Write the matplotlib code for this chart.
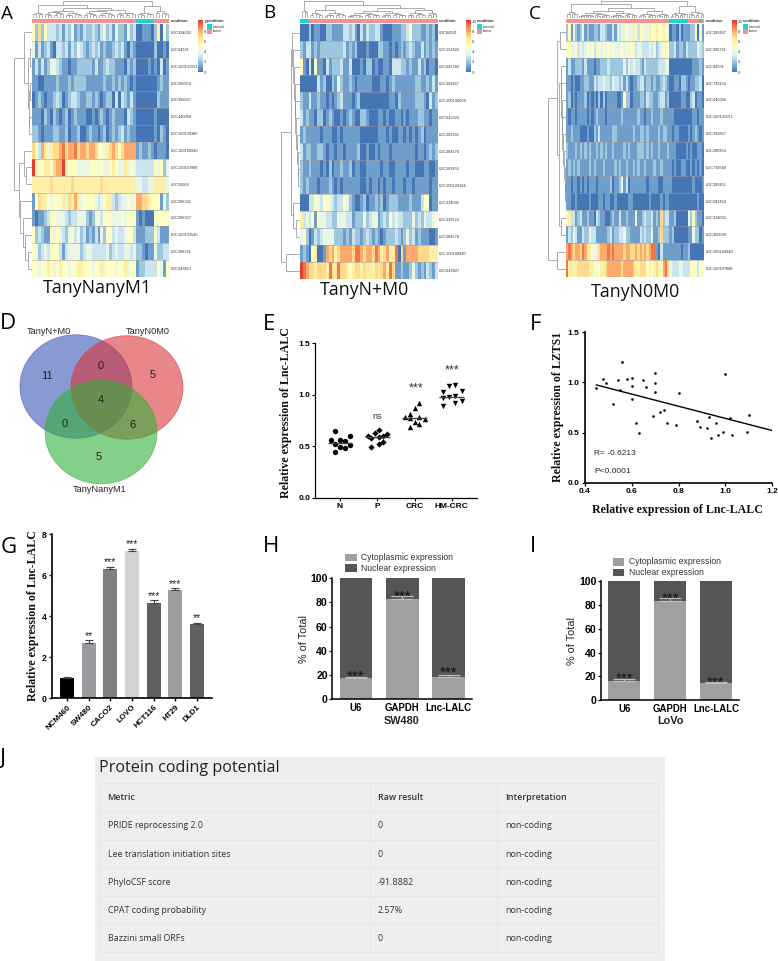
import numpy as np
import matplotlib
matplotlib.use('Agg')
import matplotlib.pyplot as plt
from matplotlib.collections import LineCollection
from matplotlib.colors import LinearSegmentedColormap, ListedColormap
from matplotlib.patches import Ellipse, Rectangle

W, H = 778, 961
SANS = 'Liberation Sans'
SERIF = 'Liberation Serif'
OPEN = 'Open Sans'

# heatmap cells, one digit per cell, a = 10
heat_a = [
    "5272533323 1324121322 3213423142 21423 001110 26052",
    "4131231033 2313243212 3231211232 31021 000000 20010",
    "1313124432 1101122222 1311232211 10212 000010 10301",
    "1100111121 1121222211 1111211212 12101 000000 01211",
    "0121011232 0123321122 1210122030 32131 000000 02111",
    "1110210210 1201211100 1012101211 10321 000000 10000",
    "2210111221 1201120012 1101201212 31211 000000 10210",
    "7538646778 9788978878 8755467875 78888 121121 01110",
    "a655665788 a655544445 5545445654 46454 333333 54524",
    "6666667666 6667666666 6667666666 66666 443344 66664",
    "1576654555 6476864555 5434566323 44545 887765 55142",
    "1011235544 4323344421 2453555444 54555 101000 55555",
    "5232115454 3245342312 1314255343 34553 111222 53111",
    "5423435553 1344442344 3333342343 34434 221011 42233",
    "5545565456 5545566555 4556455545 56455 122333 35415",
]
heat_b = [
    "000 2011002211 1133231031 3223310001 1122352221 12120",
    "213 3121222222 2231212000 1000221101 0121232113 12121",
    "510 3051103122 2311300010 2201001103 3322121131 20110",
    "000 0003120021 4211210111 1100011012 1111111221 12131",
    "211 3112110101 2311101200 0000000011 0211111222 10312",
    "312 1102201210 0101210022 1000110100 1101011122 11011",
    "121 1111011100 1011111100 0000111010 0110101012 01111",
    "312 2112210110 1101111200 1001011101 1111111011 01212",
    "211 2111010201 1211201100 1111101100 1111011000 11001",
    "212 1110111210 1011111100 1011010110 1110110111 11011",
    "000 3354355432 3354210012 0112120122 2111121113 55011",
    "634 3515443322 4443312224 2344123253 4332224232 43345",
    "452 0132344442 2212132212 3212101222 3212423121 11001",
    "121 0560018786 7888879987 8879867866 9071888877 77666",
    "a98 7767776976 9776567767 6667678697 1121124212 13213",
]
heat_c = [
    "2514212412 1122133211 3143445446 5355446556 55654 01102011 1225051",
    "5544534345 4534545454 5444545454 3443334342 34555 22312213 2222432",
    "1311222131 1101122232 2222242434 3321322222 33344 00000000 0011121",
    "1101001122 1132334332 4332313101 1233122121 12321 00110221 0112230",
    "1201011120 1010202011 1100152201 1122132211 23312 00000110 0230110",
    "1011011110 1012111011 1111211111 1211011211 12111 11000000 0011011",
    "1121110001 0021311111 2211111112 1122121111 21221 10110000 1012101",
    "2111212121 2112121211 2111121211 1222121211 21112 11100001 0100110",
    "1212121111 2121112111 1212112112 1211211121 12111 10100110 0101010",
    "1101101010 1110111112 0112413011 1111101111 00111 10000000 0010001",
    "1100100000 1000110110 0100000110 0000001000 01011 00000000 0000100",
    "5633123112 1103211001 2113112111 4112322312 17233 11200000 4252110",
    "1324311322 4331111123 1223342211 1132322411 27222 12000000 1142201",
    "8987887986 6544788898 9888878877 8787878991 03111 11111011 2000000",
    "9666677777 6654566788 8888788887 6677756567 65897 43334433 3555355",
]
genes_a = ['LOC324002', 'LOC84931', 'LOC100131551', 'LOC285954', 'LOC392867',
           'LOC440356', 'LOC100130386', 'LOC100160940', 'LOC100107888', 'LOC93009',
           'LOC286332', 'LOC286357', 'LOC100133545', 'LOC389791', 'LOC646851']
genes_b = ['LOC84931', 'LOC154822', 'LOC645783', 'LOC392867', 'LOC100144604',
           'LOC645323', 'LOC283392', 'LOC284576', 'LOC283856', 'LOC100129184',
           'LOC324002', 'LOC339524', 'LOC284578', 'LOC100160940', 'LOC646827']
genes_c = ['LOC399497', 'LOC389791', 'LOC84931', 'LOC729156', 'LOC440356',
           'LOC100131551', 'LOC392867', 'LOC285954', 'LOC730668', 'LOC399451',
           'LOC283404', 'LOC324002', 'LOC400506', 'LOC100160940', 'LOC100107888']
cond_a = [('tumor', 35), ('normal', 6), ('tumor', 5)]
cond_b = [('normal', 3), ('tumor', 45)]
cond_c = [('tumor', 45), ('normal', 8), ('tumor', 5), ('normal', 1), ('tumor', 1)]


def c(n, h):
    # small cluster of n leaves below height h
    if n == 1:
        return 0
    return (h, c(n // 2, h * 0.68), c(n - n // 2, h * 0.82))


L = 0
row_tree_a = (1.0,
              (.45, L, (.2, (.12, L, L), (.17, (.1, L, L), (.15, L, L)))),
              (.72, (.48, L, (.35, L, L)), (.68, L, (.5, L, (.4, L, (.25, L, L))))))
row_tree_b = (1.0,
              (.5, (.42, L, (.38, L, (.34, L, (.3, L, (.26, L, (.22, L, (.18, L, (.14, L, (.1, L, L))))))))),
               (.38, L, (.25, L, L))),
              (.73, L, L))
row_tree_c = (1.0,
              (.5, (.33, L, L),
               (.38, (.3, L, (.28, L, (.25, L, (.22, L, (.18, L, (.14, L, (.1, L, (.07, L, L)))))))), (.3, L, L))),
              (.54, L, L))
col_tree_a = (1.0,
              (.78, c(4, .32), (.62, (.45, c(7, .35), c(6, .3)), (.5, (.42, c(5, .3), c(6, .28)), c(7, .33)))),
              (.72, c(6, .32), c(5, .4)))
col_tree_b = (1.0, c(3, .45),
              (.8, (.5, c(5, .3), c(8, .3)), (.62, (.45, c(12, .3), c(9, .28)), (.48, c(7, .3), c(4, .3)))))
col_tree_c = (1.0,
              (.82, c(5, .35), (.6, (.42, c(14, .28), c(12, .28)), (.45, c(8, .25), c(6, .25)))),
              (.7, c(8, .32), c(7, .34)))

# panel D
venn_names = ['TanyN+M0', 'TanyN0M0', 'TanyNanyM1']
venn_counts = [11, 5, 0, 4, 0, 6, 5]

# panel E
groups_e = ['N', 'P', 'CRC', 'HM-CRC']
n_vals = [.65, .556, .598, .559, .546, .517, .491, .478, .508, .446]
n_off = [-.126, -.25, .26, 0, .126, -.126, 0, .126, .27, -.126]
p_vals = [.656, .63, .598, .579, .585, .598, .614, .537, .517, .488]
p_off = [.054, -.054, -.26, -.16, .054, .16, .26, .16, .054, -.16]
crc_vals = [.921, .873, .815, .786, .682, .737, .714, .766, .779, .77]
crc_off = [.134, 0, -.125, -.25, -.125, 0, .134, .27, .134, -.125]
hm_vals = [1.093, 1.083, 1.025, 1.031, .967, .973, .989, .941, .921, .889]
hm_off = [.09, -.07, -.24, .27, -.24, -.07, .09, .27, .09, -.24]
means_e = [.527, .59, .776, .976]
marks_e = ['o', 'D', '^', 'v']
sig_e = ['', 'ns', '***', '***']
sig_y_e = [0, .79, 1.06, 1.23]

# panel F
lnc_x = [.45, .48, .49, .52, .54, .55, .56, .58, .6, .6, .6, .62, .63, .65, .66, .69, .7, .7, .7,
         .72, .74, .75, .79, .8, .88, .89, .92, .93, .94, .96, .97, .99, 1.0, 1.02, 1.03, 1.09, 1.1]
lzts_y = [.94, 1.03, .99, .78, 1.02, .92, 1.2, 1.03, 1.04, .96, .83, .6, .5, 1.02, .95, .67, 1.09, .99, .9,
          .71, .73, .6, .58, .89, .62, .56, .55, .66, .45, .6, .48, .51, 1.08, .65, .48, .51, .68]
fit_x = [.45, 1.2]
fit_y = [.975, .52]

# panel G
cells = ['NCM460', 'SW480', 'CACO2', 'LOVO', 'HCT116', 'HT29', 'DLD1']
cell_vals = [1.0, 2.7, 6.3, 7.15, 4.62, 5.28, 3.62]
cell_err = [.06, .12, .1, .12, .15, .08, .07]
cell_sig = ['', '**', '***', '***', '***', '***', '**']
cell_cols = ['#000000', '#9a9a9e', '#7f7f7f', '#d3d3d3', '#606060', '#9f9fa3', '#5f5f5f']

# panels H, I
rna = ['U6', 'GAPDH', 'Lnc-LALC']
cyto_h = [17, 83, 18]
err_h = [1, 2, 1.5]
star_h = [21.8, 88.4, 24.9]
cyto_i = [16, 83, 14.5]
err_i = [1.5, 2.5, 1]
star_i = [21.2, 89, 18.4]
pct_ticks = [0, 20, 40, 60, 80, 100]

# panel J
metrics = ['Metric', 'PRIDE reprocessing 2.0', 'Lee translation initiation sites',
           'PhyloCSF score', 'CPAT coding probability', 'Bazzini small ORFs']
raw = ['Raw result', '0', '0', '-91.8882', '2.57%', '0']
interp = ['Interpretation', 'non-coding', 'non-coding', 'non-coding', 'non-coding', 'non-coding']

heat_cmap = LinearSegmentedColormap.from_list(
    'rdylbu', ['#4575B4', '#91BFDB', '#E0F3F8', '#FFFFBF', '#FEE090', '#FC8D59', '#D73027'])
COND_COLS = {'normal': '#1fd3d3', 'tumor': '#f8908a'}
VMAX = 10.3
GENE_FS = 2.8

fig = plt.figure(figsize=(W / 100, H / 100), dpi=100)


def px_axes(x0, y0, x1, y1):
    return fig.add_axes([x0 / W, 1 - y1 / H, (x1 - x0) / W, (y1 - y0) / H])


def walk(node, pos, segs):
    if node == 0:
        p = pos[0]
        pos[0] += 1
        return p + .5, 0
    h, a, b = node
    pa, ha = walk(a, pos, segs)
    pb, hb = walk(b, pos, segs)
    segs.append([(pa, ha), (pa, h)])
    segs.append([(pb, hb), (pb, h)])
    segs.append([(pa, h), (pb, h)])
    return (pa + pb) / 2, h


def dendro(ax, tree, n, horizontal=False, lw=.5):
    segs = []
    walk(tree, [0], segs)
    if horizontal:
        segs = [[(-h, p) for p, h in s] for s in segs]
        ax.set_xlim(-1.02, 0)
        ax.set_ylim(n, 0)
    else:
        ax.set_xlim(0, n)
        ax.set_ylim(0, 1.02)
    ax.add_collection(LineCollection(segs, colors='#8a8a8a', linewidths=lw))
    ax.axis('off')


def heatmap(box, rows, genes, cond, row_tree, col_tree, tree_left, bar_x, legend_x):
    x0, y0, x1, y1 = box
    data = np.array([[10 if v == 'a' else int(v) for v in r.replace(' ', '')] for r in rows], dtype=float)
    ax = px_axes(x0, y0, x1, y1)
    ax.imshow(data, cmap=heat_cmap, vmin=0, vmax=VMAX, aspect='auto', interpolation='nearest')
    for i in range(1, len(rows)):
        ax.axhline(i - .5, color='#9a9a9a', lw=.45, alpha=.8)
    ax.set_xticks([])
    ax.set_yticks(range(len(genes)))
    ax.set_yticklabels(genes, fontsize=GENE_FS, color='#333333', family=SANS)
    ax.yaxis.tick_right()
    ax.tick_params(axis='y', length=0, pad=1)
    for s in ax.spines.values():
        s.set_visible(False)

    labels = [name for name, n in cond for _ in range(n)]
    ann = px_axes(x0, y0 - 5, x1, y0 - 1)
    ann.imshow([[0 if v == 'tumor' else 1 for v in labels]], aspect='auto', interpolation='nearest',
               cmap=ListedColormap([COND_COLS['tumor'], COND_COLS['normal']]), vmin=0, vmax=1)
    ann.set_xticks([])
    ann.set_yticks([0])
    ann.set_yticklabels(['condition'], fontsize=GENE_FS, fontweight='bold', color='#333333', family=SANS)
    ann.yaxis.tick_right()
    ann.tick_params(axis='y', length=0, pad=1)
    for s in ann.spines.values():
        s.set_visible(False)

    dendro(px_axes(x0, 1, x1, y0 - 6), col_tree, data.shape[1])
    dendro(px_axes(tree_left, y0, x0, y1), row_tree, len(rows), horizontal=True)

    cb = px_axes(bar_x, 20, bar_x + 4.5, 72)
    cb.imshow(np.linspace(VMAX, 0, 128).reshape(-1, 1), cmap=heat_cmap, aspect='auto',
              extent=[0, 1, 0, VMAX], vmin=0, vmax=VMAX)
    cb.set_xticks([])
    cb.set_yticks([0, 2, 4, 6, 8, 10])
    cb.yaxis.tick_right()
    cb.tick_params(axis='y', length=0, pad=1, labelsize=GENE_FS, labelcolor='#333333')
    for s in cb.spines.values():
        s.set_visible(False)

    ov.text(legend_x, 21, 'condition', fontsize=GENE_FS, fontweight='bold', family=SANS, color='#333333', va='center')
    for k, (name, yy) in enumerate(zip(['normal', 'tumor'], [24, 29])):
        ov.add_patch(Rectangle((legend_x, yy), 5, 5, color=COND_COLS[name], lw=0))
        ov.text(legend_x + 6, yy + 2.5, name, fontsize=GENE_FS, family=SANS, color='#333333', va='center')


def graph_axes(ax, lw=1.1):
    ax.spines['top'].set_visible(False)
    ax.spines['right'].set_visible(False)
    ax.spines['left'].set_linewidth(lw)
    ax.spines['bottom'].set_linewidth(lw)
    ax.patch.set_visible(False)


def stacked(box, cyto, err, stars, title, title_xy, ylab_x, legend_xy):
    ax = px_axes(*box)
    x = np.arange(len(rna))
    nuc = [100 - v for v in cyto]
    ax.bar(x, cyto, width=.7, color='#a0a0a0', label='Cytoplasmic expression')
    ax.bar(x, nuc, width=.7, bottom=cyto, color='#555555', label='Nuclear expression')
    ax.errorbar(x, cyto, yerr=[[0] * 3, err], fmt='none', ecolor='#bdbdbd', elinewidth=.8, capsize=8, capthick=.9)
    for i, yy in enumerate(stars):
        ax.text(i, yy - 3.5, '***', ha='center', va='center', fontsize=11, family=SANS, color='#111111')
    ax.set_xlim(-.51, 2.51)
    ax.set_ylim(0, 100)
    ax.set_xticks(x)
    ax.set_xticklabels(rna, fontsize=6.9, fontweight='bold', family=SANS)
    ax.set_yticks(pct_ticks)
    ax.set_yticklabels(pct_ticks, fontsize=7.6, fontweight='bold', family=SANS)
    ax.tick_params(axis='x', length=0, pad=3)
    ax.tick_params(axis='y', length=2.2, width=.9, pad=1)
    graph_axes(ax)
    ov.text(ylab_x, (box[1] + box[3]) / 2, '% of Total', rotation=90, fontsize=7.8, family=SANS,
            ha='center', va='center', color='#222222')
    ov.text(*title_xy, title, fontsize=7.8, fontweight='bold', family=SANS, ha='center', va='center',
            color='#222222')
    lx, ly = legend_xy
    for k, (name, col) in enumerate([('Cytoplasmic expression', '#a0a0a0'), ('Nuclear expression', '#555555')]):
        ov.add_patch(Rectangle((lx, ly + k * 10.7), 11.3, 7.4, color=col, lw=0))
        ov.text(lx + 16, ly + k * 10.7 + 3.7, name, fontsize=6.2, family=SANS, va='center', color='#333333')


# overlay in image pixels for letters and loose text
ov = fig.add_axes([0, 0, 1, 1], zorder=10)
ov.set_xlim(0, W)
ov.set_ylim(H, 0)
ov.axis('off')

heatmap((32, 24, 169, 277), heat_a, genes_a, cond_a, row_tree_a, col_tree_a, 14, 197.5, 207)
heatmap((300.3, 24, 437.7, 279), heat_b, genes_b, cond_b, row_tree_b, col_tree_b, 281, 466, 477)
heatmap((566.3, 24, 704, 277), heat_c, genes_c, cond_c, row_tree_c, col_tree_c, 548, 732, 743)

for name, x, y in [('TanyNanyM1', 97, 288), ('TanyN+M0', 365, 290), ('TanyN0M0', 636, 292)]:
    ov.text(x, y, name, fontsize=12.8, family=OPEN, ha='center', va='center', color='#111111')

letters = [('A', 1, 19, 13.5), ('B', 263, 18, 13.5), ('C', 529, 19, 13.5), ('D', 0, 329, 16),
           ('E', 263, 330, 16), ('F', 530, 330, 16), ('G', 1, 553, 16), ('H', 263, 552, 16),
           ('I', 530, 552, 16), ('J', 0, 764, 16)]
for s, x, y, fs in letters:
    ov.text(x, y, s, fontsize=fs, family=OPEN, va='baseline', color='black')

# D venn
for (cx, cy), col in zip([(76, 386.5), (127, 387.5), (101, 432)], ['#3b55b5', '#d9363a', '#33b03a']):
    ov.add_patch(Ellipse((cx, cy), 112, 103.5, facecolor=col, edgecolor=col, alpha=.6, lw=.6))
for name, x, y in zip(venn_names, [49, 148, 100], [331.7, 332, 490]):
    ov.text(x, y, name, fontsize=6.6, family=SANS, ha='center', va='center', color='#222222')
venn_x = [46.7, 152.7, 101, 101, 65, 132.3, 98.7]
venn_y = [376, 375, 366, 400, 424, 425, 457.3]
for v, x, y in zip(venn_counts, venn_x, venn_y):
    ov.text(x, y, str(v), fontsize=8, family=SANS, ha='center', va='center', color='#222222')

# E scatter
ax = px_axes(315.3, 343, 476.7, 497.7)
for i, (vals, off, m) in enumerate(zip([n_vals, p_vals, crc_vals, hm_vals],
                                       [n_off, p_off, crc_off, hm_off], marks_e)):
    ax.scatter(np.array(off) + i, vals, marker=m, s=15 if m != 'D' else 10, color='black', lw=0)
    ax.hlines(means_e[i], i - .33, i + .33, color='#444444', lw=1)
    if sig_e[i]:
        fs = 6.5 if sig_e[i] == 'ns' else 9
        ax.text(i if i != 2 else 2.05, sig_y_e[i], sig_e[i], ha='center', va='center', fontsize=fs,
                family=SANS, color='#333333')
ax.set_xlim(-.664, 3.67)
ax.set_ylim(0, 1.5)
ax.set_xticks(range(4))
ax.set_xticklabels(groups_e, fontsize=6, fontweight='bold', family=SANS)
ax.set_yticks([0, .5, 1, 1.5])
ax.set_yticklabels(['0.0', '0.5', '1.0', '1.5'], fontsize=6, fontweight='bold', family=SANS)
ax.tick_params(length=2.2, width=.8, pad=1.5)
graph_axes(ax, .9)
ov.text(286, 413, 'Relative expression of Lnc-LALC', rotation=90, fontsize=8.6, fontweight='bold',
        family=SERIF, ha='center', va='center', color='#111111')

# F correlation
ax = px_axes(584.7, 332.3, 772.3, 482.7)
ax.scatter(lnc_x, lzts_y, s=3.5, color='black', lw=0)
ax.plot(fit_x, fit_y, color='black', lw=1)
ax.set_xlim(.4, 1.2)
ax.set_ylim(0, 1.5)
ax.set_xticks([.4, .6, .8, 1, 1.2])
ax.set_xticklabels(['0.4', '0.6', '0.8', '1.0', '1.2'], fontsize=6, fontweight='bold', family=SANS)
ax.set_yticks([0, .5, 1, 1.5])
ax.set_yticklabels(['0.0', '0.5', '1.0', '1.5'], fontsize=6, fontweight='bold', family=SANS)
ax.tick_params(length=2.2, width=.9, pad=1.5)
graph_axes(ax, 1.2)
ax.text(.441, .293, 'R= -0.6213', fontsize=6, family=SANS, va='center', color='#222222')
ax.text(.441, .113, 'P<0.0001', fontsize=6, family=SANS, va='center', color='#222222')
ov.text(558, 407, 'Relative expression of LZTS1', rotation=90, fontsize=8.6, fontweight='bold',
        family=SERIF, ha='center', va='center', color='#111111')
ov.text(677, 510, 'Relative expression of Lnc-LALC', fontsize=8.6, fontweight='bold',
        family=SERIF, ha='center', va='center', color='#111111')

# G bars
ax = px_axes(52.3, 534, 211.7, 698.3)
x = np.arange(len(cells))
ax.bar(x, cell_vals, width=.66, color=cell_cols)
for i in x:
    ax.errorbar(i, cell_vals[i], yerr=[[0], [cell_err[i]]], fmt='none', ecolor='#444444',
                elinewidth=.8, capsize=3, capthick=.8)
    if cell_sig[i]:
        ax.text(i, cell_vals[i] + cell_err[i] + .22, cell_sig[i], ha='center', va='center',
                fontsize=7.5, family=SANS, color='#222222')
ax.set_xlim(-.68, 6.68)
ax.set_ylim(0, 8)
ax.set_xticks(x)
ax.set_xticklabels(cells, rotation=45, ha='right', rotation_mode='anchor', fontsize=5.8,
                   fontweight='bold', family=SANS)
ax.set_yticks([0, 2, 4, 6, 8])
ax.set_yticklabels([0, 2, 4, 6, 8], fontsize=6.2, fontweight='bold', family=SANS)
ax.tick_params(length=2.5, width=1, pad=1.5)
graph_axes(ax, 1.2)
ov.text(33, 616, 'Relative expression of Lnc-LALC', rotation=90, fontsize=8.6, fontweight='bold',
        family=SERIF, ha='center', va='center', color='#111111')

# H, I stacked
stacked((332.3, 578.3, 472.3, 699), cyto_h, err_h, star_h, 'SW480', (402, 720.7), 304, (345.3, 553.7))
stacked((601, 581, 739.3, 700.3), cyto_i, err_i, star_i, 'LoVo', (670, 721.5), 572, (613, 558.3))

# J table
ov.add_patch(Rectangle((95, 756.7), 570, 204, color='#eeeeee', lw=0))
ov.text(99.5, 767.7, 'Protein coding potential', fontsize=11.6, family=OPEN, va='center', color='#222222')
row_lines = [783.3, 811.3, 840.3, 868.3, 896.3, 924.3, 952.3]
col_lines = [99.5, 370, 497, 658]
for y in row_lines:
    ov.plot([col_lines[0], col_lines[-1]], [y, y], color='#e4e6e9', lw=.7)
for xl in col_lines:
    ov.plot([xl, xl], [row_lines[0], row_lines[-1]], color='#e4e6e9', lw=.7)
for i in range(6):
    yy = (row_lines[i] + row_lines[i + 1]) / 2
    weight = 'semibold' if i == 0 else 'normal'
    for xl, col in zip([107.6, 378, 505], [metrics, raw, interp]):
        ov.text(xl, yy, col[i], fontsize=6.4, family=OPEN, fontweight=weight, va='center', color='#333333')
ov.set_xlim(0, W)
ov.set_ylim(H, 0)

fig.savefig('out.png', dpi=100)
